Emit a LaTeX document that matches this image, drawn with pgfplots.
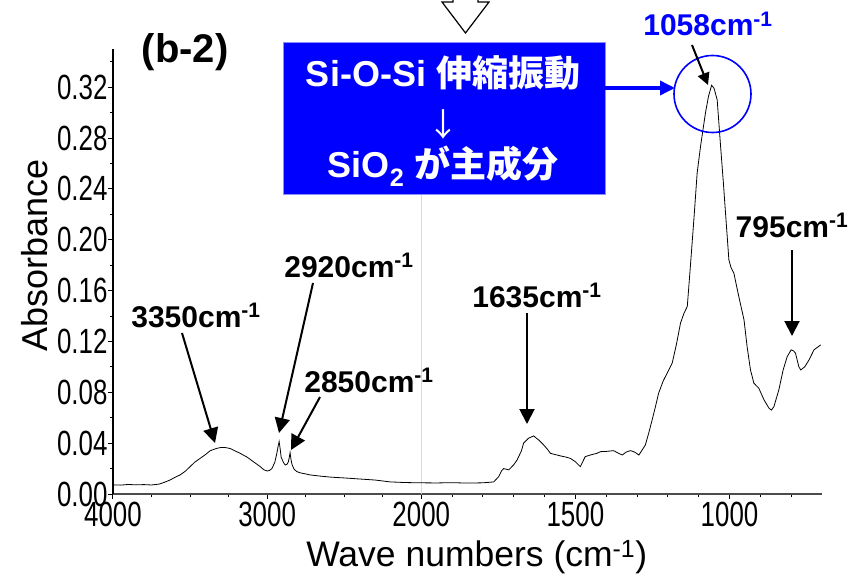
\documentclass[border=0pt]{standalone}
\usepackage{fontspec}
\setmainfont{Liberation Sans}
\newfontfamily\narrowfont[FakeStretch=0.74]{Liberation Sans}
\newfontfamily\cjk{Noto Sans CJK JP}
\usepackage{pgfplots}
\pgfplotsset{compat=1.18}
\usepackage{pgfplotstable}
\usetikzlibrary{arrows.meta}

\pgfplotstableread{
w a
4000 0.0072
3950 0.0070
3900 0.0075
3850 0.0072
3800 0.0074
3750 0.0071
3700 0.0078
3660 0.0095
3630 0.0110
3600 0.0130
3565 0.0150
3530 0.0180
3500 0.0215
3470 0.0250
3435 0.0280
3400 0.0310
3370 0.0340
3330 0.0358
3300 0.0366
3270 0.0365
3240 0.0358
3210 0.0340
3175 0.0320
3130 0.0290
3089 0.0254
3050 0.0220
3020 0.0190
3000 0.0181
2985 0.0185
2969 0.0200
2950 0.0250
2937 0.0320
2928 0.0380
2922 0.0412
2916 0.0360
2909 0.0290
2895 0.0250
2883 0.0228
2870 0.0235
2862 0.0254
2856 0.0290
2851 0.0325
2845 0.0270
2838 0.0230
2825 0.0195
2807 0.0176
2780 0.0165
2750 0.0158
2721 0.0150
2650 0.0140
2580 0.0132
2494 0.0126
2400 0.0118
2300 0.0110
2200 0.0095
2100 0.0090
2000 0.0088
1950 0.0087
1900 0.0089
1850 0.0086
1800 0.0088
1765 0.0095
1749 0.0136
1740 0.0180
1733 0.0200
1725 0.0195
1716 0.0190
1700 0.0230
1689 0.0268
1675 0.0340
1668 0.0400
1652 0.0439
1635 0.0457
1627 0.0440
1619 0.0425
1603 0.0386
1590 0.0350
1581 0.0320
1565 0.0310
1549 0.0300
1530 0.0290
1516 0.0280
1500 0.0254
1484 0.0215
1475 0.0260
1468 0.0294
1451 0.0307
1430 0.0320
1419 0.0333
1400 0.0335
1376 0.0341
1360 0.0320
1348 0.0307
1335 0.0330
1321 0.0341
1308 0.0330
1294 0.0307
1285 0.0340
1273 0.0386
1262 0.0480
1251 0.0583
1240 0.0690
1230 0.0793
1215 0.0890
1197 0.0976
1186 0.1029
1172 0.1180
1159 0.1344
1148 0.1420
1137 0.1475
1127 0.1790
1115 0.2180
1105 0.2525
1094 0.2735
1078 0.2998
1068 0.3130
1058 0.3215
1050 0.3190
1040 0.3100
1029 0.2735
1020 0.2450
1013 0.2210
1002 0.1840
995 0.1780
986 0.1738
970 0.1554
953 0.1370
943 0.1160
932 0.0976
921 0.0872
905 0.0832
888 0.0740
872 0.0675
864 0.0660
856 0.0687
840 0.0819
826 0.0976
813 0.1080
800 0.1134
792 0.1125
786 0.1108
775 0.1000
769 0.0976
756 0.1000
742 0.1055
726 0.1134
704 0.1173
}\spectrum

\tikzset{ann/.style={line width=2pt, -{Triangle[length=15pt,width=15pt]}},
  lab/.style={font=\bfseries\fontsize{30}{36}\selectfont, anchor=base, inner sep=0pt}}

\begin{document}
\begin{tikzpicture}
\path[use as bounding box] (0pt,0pt) rectangle (865pt,-578pt);
\begin{axis}[
  at={(113pt,-494pt)}, anchor=south west,
  width=709pt, height=445pt, scale only axis,
  xmin=0, xmax=4600, ymin=0, ymax=0.35,
  axis x line*=bottom, axis y line*=left,
  x axis line style={-, black!70, line width=2pt},
  y axis line style={-, black, line width=1.8pt},
  xtick={0,1000,2000,3000,4000},
  xticklabels={4000,3000,2000,1500,1000},
  minor xtick={250,500,750,1250,1500,1750,2200,2400,2600,2800,3200,3400,3600,3800,4200,4400},
  ytick={0,0.04,0.08,0.12,0.16,0.2,0.24,0.28,0.32},
  minor ytick={0.02,0.06,0.10,0.14,0.18,0.22,0.26,0.30,0.34},
  yticklabel style={xshift=3pt, /pgf/number format/fixed, /pgf/number format/fixed zerofill, /pgf/number format/precision=2},
  /pgf/number format/assume math mode=true,
  tick align=outside,
  major tick length=5pt, minor tick length=3pt,
  tick style={black, line width=1pt},
  tick label style={font=\narrowfont\fontsize{35}{40}\selectfont},
  xlabel={Wave numbers (cm\textsuperscript{-1})},
  xlabel style={at={(axis description cs:0.513,-0.162)}, anchor=base, font=\fontsize{35.5}{40}\selectfont},
  ylabel={Absorbance},
  ylabel style={at={(axis description cs:-0.093,0.535)}, anchor=base, font=\fontsize{36}{40}\selectfont},
  clip=false,
]
\draw[black!15, line width=0.8pt] (axis cs:2000,0) -- (axis cs:2000,0.35);
\addplot[black, line width=0.8pt, mark=none]
  table[x expr={\thisrowno{0}>1999.5 ? 4000-\thisrowno{0} : 6000-2*\thisrowno{0}}, y=a] {\spectrum};
\end{axis}

% hollow arrow at top
\draw[black, line width=1.2pt, fill=white] (453pt,10pt) -- (453pt,-2pt) -- (442pt,-2pt) -- (465.5pt,-33pt) -- (489pt,-2pt) -- (478pt,-2pt) -- (478pt,10pt);

% blue box
\fill[blue] (283pt,-42pt) rectangle (605pt,-194pt);
\draw[blue!45, line width=0.8pt] (283pt,-42pt) rectangle (605pt,-194pt);
\node[anchor=base, text=white, inner sep=0pt, font=\bfseries\fontsize{36}{40}\selectfont] at (443pt,-87pt) {Si-O-Si {\cjk\bfseries 伸縮振動}};
\node[anchor=center, text=white, inner sep=0pt, font=\fontsize{32}{36}\selectfont] at (443pt,-124pt) {\cjk ↓};
\node[anchor=base, text=white, inner sep=0pt, font=\bfseries\fontsize{36}{40}\selectfont] at (443pt,-177pt) {SiO\textsubscript{2} {\cjk\bfseries が主成分}};

% blue arrow and circle
\draw[blue, line width=3.5pt, -{Triangle[length=15pt,width=14pt]}] (605pt,-88pt) -- (675pt,-88pt);
\draw[blue, line width=1.6pt] (712.5pt,-94pt) circle (38.5pt);

% labels
\node[lab] at (185pt,-63pt) {\fontsize{40}{44}\selectfont (b-2)};
\node[lab, text=blue] at (708pt,-36pt) {1058cm\textsuperscript{-1}};
\draw[line width=2pt, -{Triangle[length=12pt,width=12pt]}] (692pt,-45pt) -- (708pt,-85pt);
\node[lab] at (196pt,-327pt) {3350cm\textsuperscript{-1}};
\draw[ann] (182pt,-333pt) -- (215pt,-443pt);
\node[lab] at (349pt,-277pt) {2920cm\textsuperscript{-1}};
\draw[ann] (313pt,-283pt) -- (279pt,-433pt);
\node[lab] at (369pt,-392pt) {2850cm\textsuperscript{-1}};
\draw[ann] (320pt,-397pt) -- (291pt,-450pt);
\node[lab] at (537pt,-307pt) {1635cm\textsuperscript{-1}};
\draw[ann] (527pt,-313pt) -- (527pt,-424pt);
\node[lab] at (792pt,-237pt) {795cm\textsuperscript{-1}};
\draw[ann] (792pt,-250pt) -- (792pt,-336pt);
\end{tikzpicture}
\end{document}
